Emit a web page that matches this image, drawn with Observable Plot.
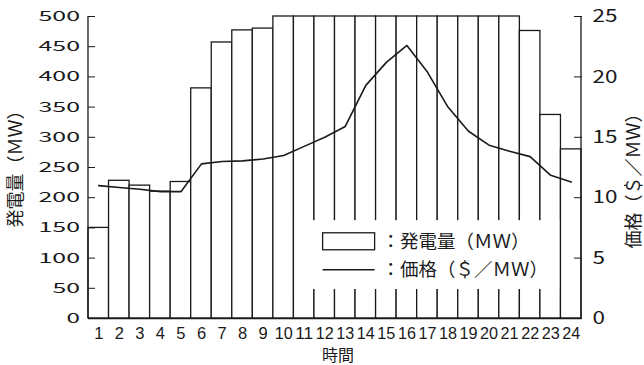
<!DOCTYPE html>
<html>
<head>
<meta charset="utf-8">
<script src="https://cdn.jsdelivr.net/npm/d3@7"></script>
<script src="https://cdn.jsdelivr.net/npm/@observablehq/plot@0.6"></script>
<style>
  body { margin: 0; background: #fff; }
  #chart svg { display: block; }
</style>
</head>
<body>
<div id="chart"></div>
<script>
// Hourly generation (MW) and price ($/MW) over one day
const hours = d3.range(1, 25);
const outputMW = [150, 228, 220, 210, 226, 381, 457, 477, 480, 500, 500, 500,
                  500, 500, 500, 500, 500, 500, 500, 500, 500, 476, 337, 280];
const priceUSD = [11.0, 10.85, 10.7, 10.5, 10.5, 12.8, 13.0, 13.05, 13.2, 13.5, 14.25, 15.0,
                  15.9, 19.3, 21.2, 22.6, 20.4, 17.5, 15.5, 14.35, 13.85, 13.4, 11.85, 11.3];
const mwTicks = d3.range(0, 501, 50);
const priceTicks = [0, 5, 10, 15, 20, 25];

const MW_MAX = 500, PRICE_MAX = 25;
const PRICE_TO_MW = MW_MAX / PRICE_MAX; // price axis shares the MW scale

const rows = hours.map((h, i) => ({hour: h, output: outputMW[i], price: priceUSD[i]}));

const FONT = "'Noto Sans CJK JP', 'Noto Sans', sans-serif";
const DIGITS = "'Liberation Sans', 'DejaVu Sans', sans-serif";
const INK = "#1a1a1a";

const plot = Plot.plot({
  width: 644,
  height: 365,
  marginTop: 16,
  marginBottom: 47,
  marginLeft: 88,
  marginRight: 63,
  style: {fontFamily: FONT, color: INK, background: "#fff"},
  x: {type: "band", domain: hours, padding: 0, round: false, label: null},
  y: {domain: [0, MW_MAX], label: null},
  marks: [
    Plot.barY(rows, {x: "hour", y: "output", fill: "white", stroke: INK, strokeWidth: 1.3}),
    Plot.line(rows, {x: "hour", y: d => d.price * PRICE_TO_MW, stroke: INK, strokeWidth: 1.6}),
    Plot.ruleY([0], {stroke: INK, strokeWidth: 1.3}),
    Plot.axisY(mwTicks, {anchor: "left", tickSize: -7, tickPadding: 15.5, fontSize: 14, label: null, stroke: INK}),
    Plot.axisY(priceTicks.map(p => p * PRICE_TO_MW), {
      anchor: "right", tickSize: -8, tickPadding: 19, fontSize: 17.5, label: null, stroke: INK,
      tickFormat: d => d / PRICE_TO_MW
    }),
    Plot.axisX(hours, {tickSize: 0, tickPadding: 8.5, fontSize: 16.5, fontFamily: DIGITS, label: null}),
    Plot.text(["発電量（ＭＷ）"], {text: d => d, frameAnchor: "left", textAnchor: "middle", lineAnchor: "middle",
      rotate: -90, dx: -72, dy: -3, fontSize: 18, fill: INK}),
    Plot.text(["価格（＄／ＭＷ）"], {text: d => d, frameAnchor: "right", textAnchor: "middle", lineAnchor: "middle",
      rotate: -90, dx: 53, dy: 9, fontSize: 18, fill: INK}),
    Plot.text(["時間"], {text: d => d, frameAnchor: "bottom", textAnchor: "middle", lineAnchor: "middle",
      dx: 3, dy: 37.2, fontSize: 16, fill: INK})
  ]
});

document.getElementById("chart").appendChild(plot);

const svg = d3.select(plot);
const xs = plot.scale("x");
const ys = plot.scale("y");
const X = v => xs.apply(v);
const Y = v => ys.apply(v);
const xLeft = xs.range[0], xRight = xs.range[1];

// Wide digits on the MW axis, condensed two-digit hour labels
const yLabelGroups = svg.selectAll('g[aria-label="y-axis tick label"]').nodes();
if (yLabelGroups[0]) d3.select(yLabelGroups[0]).selectAll("text").each(function() {
  const n = this.textContent.length;
  d3.select(this).attr("textLength", 14 * n - 0.5).attr("lengthAdjust", "spacingAndGlyphs");
});
if (yLabelGroups[1]) d3.select(yLabelGroups[1]).selectAll("text").each(function() {
  const n = this.textContent.length;
  d3.select(this).attr("textLength", 12.5 * n).attr("lengthAdjust", "spacingAndGlyphs");
});
svg.selectAll('g[aria-label="x-axis tick label"] text').each(function() {
  if (this.textContent.length > 1) d3.select(this).attr("textLength", 18).attr("lengthAdjust", "spacingAndGlyphs");
});

// Left and right axis lines
const axes = svg.append("g").attr("stroke", INK).attr("stroke-width", 1.3);
[xLeft, xRight].forEach(x => axes.append("line")
  .attr("x1", x).attr("x2", x).attr("y1", Y(0)).attr("y2", Y(MW_MAX)));

// Legend panel over hours 11–23
const lx0 = X(11) + 1.2, lx1 = X(23) + xs.bandwidth - 1.2;
const legend = svg.append("g").attr("font-family", FONT).attr("fill", INK)
  .attr("font-size", 18.5).attr("text-anchor", "start");
legend.append("rect").attr("x", lx0).attr("y", Y(162)).attr("width", lx1 - lx0).attr("height", Y(48) - Y(162))
  .attr("fill", "white");
const symX = lx0 + 28, symW = 52;
const row1 = Y(127), row2 = Y(80);
legend.append("rect").attr("x", symX).attr("y", row1 - 8.5).attr("width", symW).attr("height", 17)
  .attr("fill", "white").attr("stroke", INK).attr("stroke-width", 1.3);
legend.append("line").attr("x1", symX).attr("x2", symX + symW).attr("y1", row2).attr("y2", row2)
  .attr("stroke", INK).attr("stroke-width", 1.6);
legend.append("text").attr("x", symX + 59).attr("y", row1).attr("dy", "0.35em").text("：発電量（ＭＷ）");
legend.append("text").attr("x", symX + 59).attr("y", row2).attr("dy", "0.35em").text("：価格（＄／ＭＷ）");
</script>
</body>
</html>
